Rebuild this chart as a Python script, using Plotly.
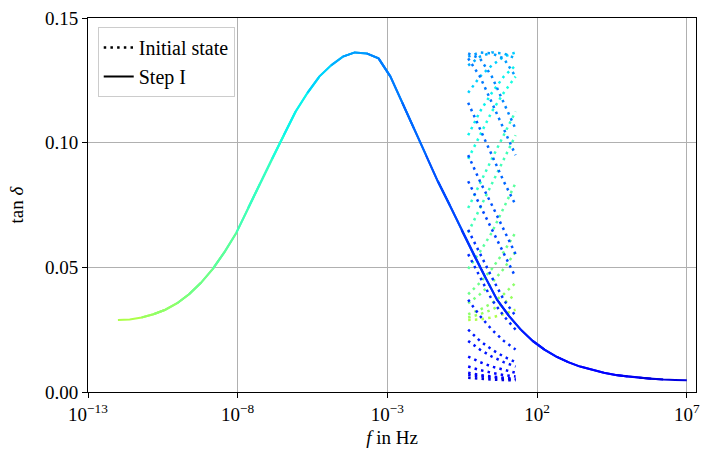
import numpy as np
import plotly.graph_objects as go

# Measured frequencies of each isotherm (Hz)
freqs = [0.5, 1.24, 3.1, 7.7, 19.2]

# Horizontal shift factors log10(a_T), hottest -> coldest
log_shift = [-11.70, -10.91, -10.51, -9.72, -9.32, -8.53, -7.74, -7.35, -6.55, -6.16,
             -5.37, -4.58, -4.18, -3.39, -2.99, -2.20, -1.41, -1.01, -0.22, 0.17,
             0.97, 1.76, 2.15, 2.95, 3.74, 4.53, 4.93, 5.72]

# tan delta values of each isotherm at the frequencies above
iso_01 = [0.0289, 0.0291, 0.0299, 0.0312, 0.0330]
iso_02 = [0.0299, 0.0312, 0.0330, 0.0356, 0.0392]
iso_03 = [0.0312, 0.0330, 0.0356, 0.0392, 0.0438]
iso_04 = [0.0356, 0.0392, 0.0438, 0.0494, 0.0562]
iso_05 = [0.0392, 0.0438, 0.0494, 0.0562, 0.0640]
iso_06 = [0.0494, 0.0562, 0.0640, 0.0738, 0.0838]
iso_07 = [0.0640, 0.0738, 0.0838, 0.0935, 0.1030]
iso_08 = [0.0738, 0.0838, 0.0935, 0.1030, 0.1125]
iso_09 = [0.0935, 0.1030, 0.1125, 0.1200, 0.1265]
iso_10 = [0.1030, 0.1125, 0.1200, 0.1265, 0.1310]
iso_11 = [0.1200, 0.1265, 0.1310, 0.1345, 0.1362]
iso_12 = [0.1310, 0.1345, 0.1362, 0.1358, 0.1338]
iso_13 = [0.1345, 0.1362, 0.1358, 0.1338, 0.1265]
iso_14 = [0.1358, 0.1338, 0.1265, 0.1160, 0.1055]
iso_15 = [0.1338, 0.1265, 0.1160, 0.1055, 0.0950]
iso_16 = [0.1160, 0.1055, 0.0950, 0.0845, 0.0750]
iso_17 = [0.0950, 0.0845, 0.0750, 0.0650, 0.0553]
iso_18 = [0.0845, 0.0750, 0.0650, 0.0553, 0.0460]
iso_19 = [0.0650, 0.0553, 0.0460, 0.0370, 0.0305]
iso_20 = [0.0553, 0.0460, 0.0370, 0.0305, 0.0250]
iso_21 = [0.0370, 0.0305, 0.0250, 0.0205, 0.0170]
iso_22 = [0.0250, 0.0205, 0.0170, 0.0142, 0.0120]
iso_23 = [0.0205, 0.0170, 0.0142, 0.0120, 0.0102]
iso_24 = [0.0142, 0.0120, 0.0102, 0.0088, 0.0077]
iso_25 = [0.0102, 0.0088, 0.0077, 0.0068, 0.0062]
iso_26 = [0.0077, 0.0068, 0.0062, 0.0057, 0.0053]
iso_27 = [0.0068, 0.0062, 0.0057, 0.0053, 0.0050]
iso_28 = [0.0057, 0.0053, 0.0050, 0.0048, 0.0047]

isotherms = [iso_01, iso_02, iso_03, iso_04, iso_05, iso_06, iso_07, iso_08, iso_09, iso_10,
             iso_11, iso_12, iso_13, iso_14, iso_15, iso_16, iso_17, iso_18, iso_19, iso_20,
             iso_21, iso_22, iso_23, iso_24, iso_25, iso_26, iso_27, iso_28]

x_tick_exp = [-13, -8, -3, 2, 7]
y_ticks = [0.0, 0.05, 0.10, 0.15]


def jet(t):
    r = np.interp(t, [0, 0.35, 0.66, 0.89, 1], [0, 0, 1, 1, 0.5])
    g = np.interp(t, [0, 0.125, 0.375, 0.64, 0.91, 1], [0, 0, 1, 1, 0, 0])
    b = np.interp(t, [0, 0.11, 0.34, 0.65, 1], [0.5, 1, 1, 0, 0])
    return "rgb(%d,%d,%d)" % (round(r * 255), round(g * 255), round(b * 255))


FONT = "Liberation Serif"
fig = go.Figure()

log_f = np.log10(freqs)
for s, vals in zip(log_shift, isotherms):
    center = s + float(np.mean(log_f))
    t = float(np.interp(center, [-11.2, -7.5, -3.5, 0.5, 4.5, 6.5],
                        [0.56, 0.44, 0.27, 0.17, 0.12, 0.075]))
    col = jet(t)
    fig.add_trace(go.Scatter(x=freqs, y=vals, mode="lines",
                             line=dict(color=col, width=2.5, dash="2.5px,4.2px"),
                             showlegend=False, hoverinfo="skip"))
    fig.add_trace(go.Scatter(x=[f * 10 ** s for f in freqs], y=vals, mode="lines",
                             line=dict(color=col, width=2),
                             showlegend=False, hoverinfo="skip"))

fig.add_trace(go.Scatter(x=[None], y=[None], mode="lines", name="Initial state",
                         line=dict(color="black", width=2.5, dash="2.5px,4.2px")))
fig.add_trace(go.Scatter(x=[None], y=[None], mode="lines", name="Step I",
                         line=dict(color="black", width=2.2)))

axis_common = dict(showline=True, linecolor="black", linewidth=1, mirror=True,
                   ticks="outside", ticklen=5, tickwidth=1, tickcolor="black",
                   showgrid=True, gridcolor="#b0b0b0", gridwidth=1, zeroline=False,
                   tickfont=dict(family=FONT, size=19, color="black"))

fig.update_layout(
    width=705, height=450,
    margin=dict(l=88, r=5, t=18, b=58),
    paper_bgcolor="white", plot_bgcolor="white",
    font=dict(family=FONT, size=19, color="black"),
    xaxis=dict(type="log", range=[-13, 7.31],
               tickvals=[10.0 ** e for e in x_tick_exp],
               ticktext=["10<sup>%s</sup>" % str(e).replace("-", "\u2212") for e in x_tick_exp],
               title=dict(text="<i>f</i> in Hz", font=dict(family=FONT, size=19), standoff=6),
               **axis_common),
    yaxis=dict(range=[0, 0.15], tickvals=y_ticks, tickformat=".2f",
               title=dict(text="tan <i>\u03b4</i>", font=dict(family=FONT, size=19), standoff=16),
               **axis_common),
    legend=dict(x=0.016, y=0.976, xanchor="left", yanchor="top",
                bgcolor="rgba(255,255,255,0.85)", bordercolor="#cccccc", borderwidth=1,
                font=dict(family=FONT, size=20), tracegroupgap=0),
)

fig.write_html("out.html", config={"displayModeBar": False},
               post_script="document.body.style.margin='0';document.body.style.overflow='hidden';")
